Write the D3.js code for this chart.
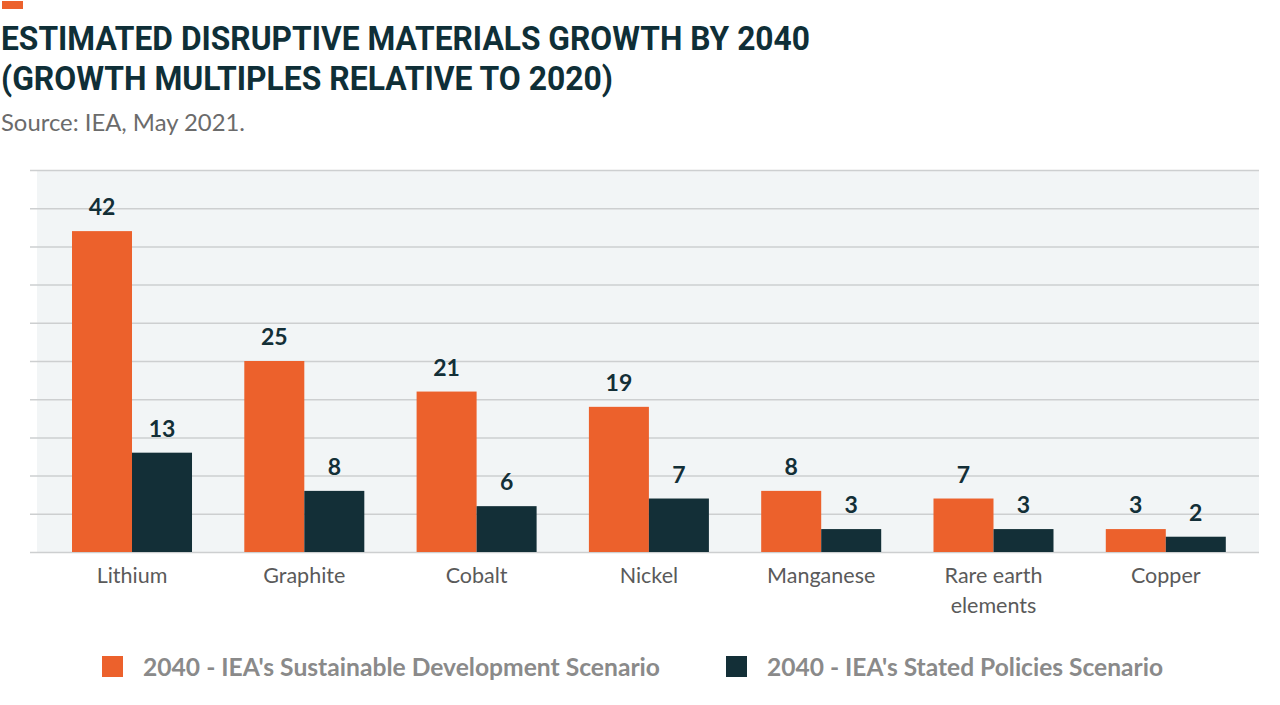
<!DOCTYPE html>
<html><head><meta charset="utf-8">
<script src="https://cdn.jsdelivr.net/npm/d3@7"></script>
<style>body{margin:0;background:#fff}svg{display:block}</style>
</head><body><svg id="c" width="1280" height="705"></svg>
<script>
const categories = ["Lithium","Graphite","Cobalt","Nickel","Manganese","Rare earth elements","Copper"];
const categoryLines = [["Lithium"],["Graphite"],["Cobalt"],["Nickel"],["Manganese"],["Rare earth","elements"],["Copper"]];
const seriesNames = ["2040 - IEA's Sustainable Development Scenario","2040 - IEA's Stated Policies Scenario"];
const sdsValues = [42,25,21,19,8,7,3];
const spsValues = [13,8,6,7,3,3,2];
const yTicks = [0,5,10,15,20,25,30,35,40,45,50];
const colors = ["#ec612c","#132f37"];

const svg = d3.select("#c");
const titleColor = "#0f2f37";

svg.append("rect").attr("x",2).attr("y",1).attr("width",21).attr("height",8).attr("fill","#ec612c");
svg.append("text").attr("x",1).attr("y",50).attr("fill",titleColor)
  .style("font-family","Roboto").style("font-weight",700).style("font-size","33.5px")
  .attr("textLength",809).attr("lengthAdjust","spacingAndGlyphs")
  .text("ESTIMATED DISRUPTIVE MATERIALS GROWTH BY 2040");
svg.append("text").attr("x",1).attr("y",90).attr("fill",titleColor)
  .style("font-family","Roboto").style("font-weight",700).style("font-size","33.5px")
  .attr("textLength",612).attr("lengthAdjust","spacingAndGlyphs")
  .text("(GROWTH MULTIPLES RELATIVE TO 2020)");
svg.append("text").attr("x",1).attr("y",131).attr("fill","#6b6b6b")
  .style("font-family","Lato").style("font-size","23px")
  .attr("textLength",244).attr("lengthAdjust","spacingAndGlyphs")
  .text("Source: IEA, May 2021.");

const y = d3.scaleLinear().domain([0,50]).range([552,170]);
const x0 = d3.scaleBand().domain(categories).range([45.85,1251.95]).paddingInner(0.3035).paddingOuter(0.1518);
const x1 = d3.scaleBand().domain([0,1]).range([0,x0.bandwidth()]);

svg.append("rect").attr("x",37).attr("y",y(50)).attr("width",1259-37).attr("height",y(0)-y(50)).attr("fill","#f2f5f6");

const yAxis = d3.axisLeft(y).tickValues(yTicks).tickSize(-(1259-30)).tickFormat("");
const ga = svg.append("g").attr("transform","translate(30,0)").call(yAxis);
ga.select(".domain").remove();
ga.selectAll(".tick line").attr("stroke","#cdcfd0").attr("stroke-width",1.5);

const data = categories.map((c,i)=>({cat:c, lines:categoryLines[i], vals:[sdsValues[i],spsValues[i]]}));
const groups = svg.append("g").selectAll("g").data(data).join("g")
  .attr("transform",d=>`translate(${x0(d.cat)},0)`);
groups.selectAll("rect").data(d=>d.vals.map((v,k)=>({v,k}))).join("rect")
  .attr("x",d=>x1(d.k)).attr("width",x1.bandwidth())
  .attr("y",d=>y(d.v)).attr("height",d=>y(0)-y(d.v)).attr("fill",d=>colors[d.k]);
groups.selectAll("text.v").data(d=>d.vals.map((v,k)=>({v,k}))).join("text").attr("class","v")
  .attr("x",d=>x1(d.k)+x1.bandwidth()/2).attr("y",d=>y(d.v)-16)
  .attr("text-anchor","middle").attr("fill","#132f37")
  .style("font-family","Lato").style("font-weight",700).style("font-size","23px")
  .text(d=>d.v);

const xa = svg.append("g").selectAll("text").data(data).join("text")
  .attr("x",d=>x0(d.cat)+x0.bandwidth()/2).attr("y",583)
  .attr("text-anchor","middle").attr("fill","#5a5a5a")
  .style("font-family","Lato").style("font-size","21.5px");
xa.selectAll("tspan").data(d=>d.lines).join("tspan")
  .attr("x",function(){return d3.select(this.parentNode).attr("x");})
  .attr("dy",(d,i)=>i===0?0:30).text(d=>d);

const legendX = [102,726];
const legendTextLen = [517,396];
const lg = svg.append("g").selectAll("g").data(seriesNames).join("g")
  .attr("transform",(d,i)=>`translate(${legendX[i]},656)`);
lg.append("rect").attr("width",21).attr("height",21).attr("fill",(d,i)=>colors[i]);
lg.append("text").attr("x",41).attr("y",20).attr("fill","#8a8a8a")
  .style("font-family","Lato").style("font-weight",700).style("font-size","24px")
  .attr("textLength",(d,i)=>legendTextLen[i]).attr("lengthAdjust","spacingAndGlyphs")
  .text(d=>d);
</script></body></html>
